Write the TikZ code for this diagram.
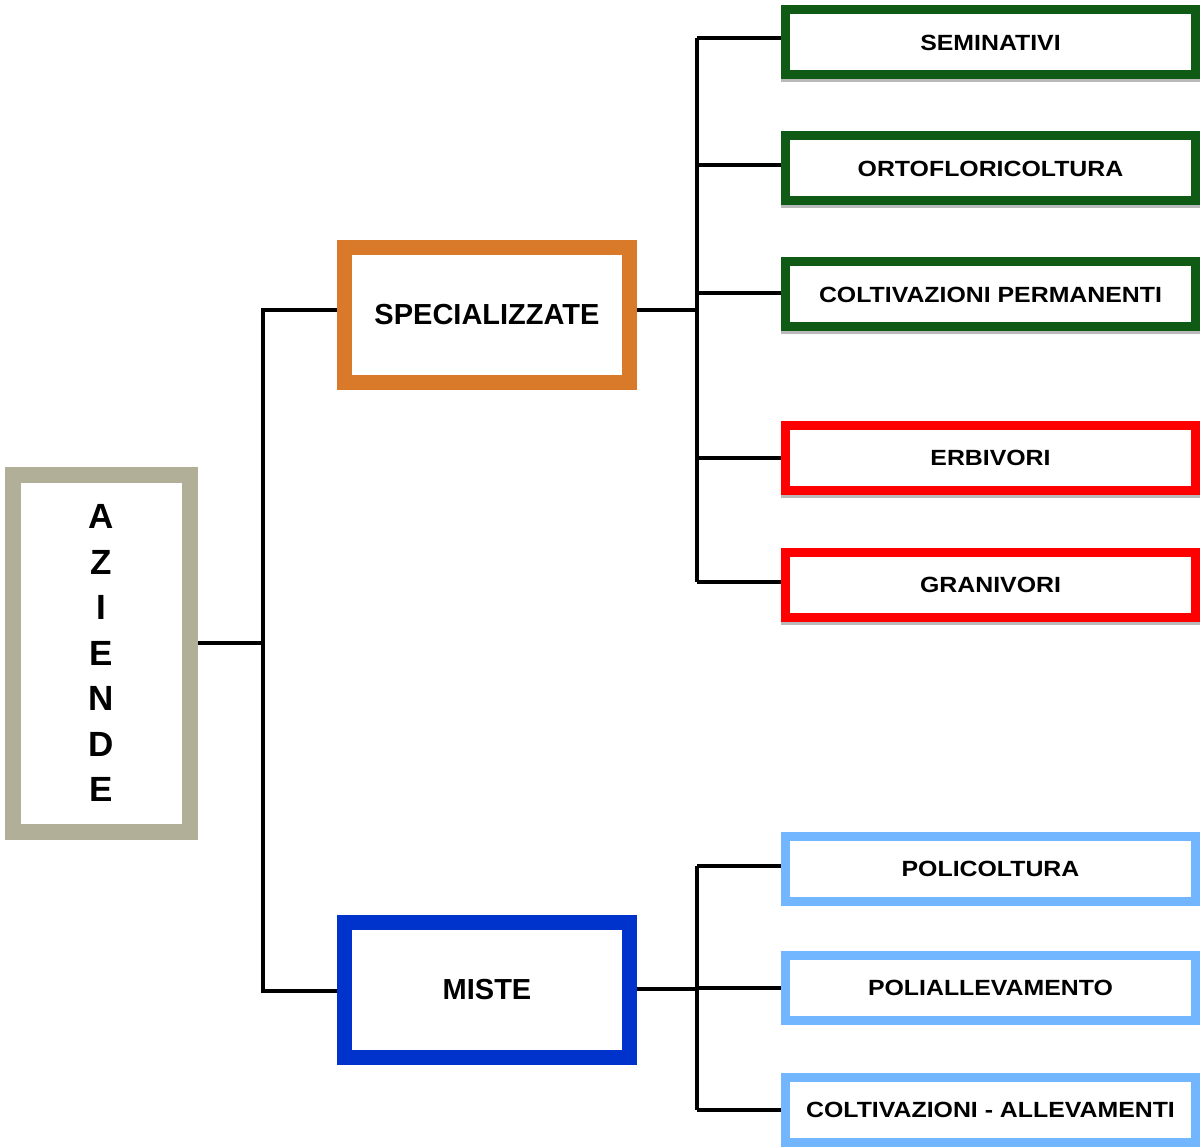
\documentclass[tikz,border=0pt]{standalone}
\usepackage{fontspec}
\setmainfont{Liberation Sans}
\newfontfamily\widefont{Liberation Sans}[FakeStretch=1.13]
\definecolor{tanc}{HTML}{B2AF98}
\definecolor{orangec}{HTML}{D97A2B}
\definecolor{bluec}{HTML}{0033CC}
\definecolor{greenc}{HTML}{0F5A14}
\definecolor{redc}{HTML}{FF0000}
\definecolor{lbluec}{HTML}{72B6FF}
\tikzset{
  conn/.style={draw=black, line width=4.5pt},
  bigbox/.style={draw, fill=white, line width=15pt, inner sep=0pt,
    minimum width=285pt, minimum height=135pt,
    font=\fontsize{29}{34}\selectfont\bfseries},
  leafbox/.style={draw, fill=white, line width=9pt, inner sep=0pt,
    minimum width=410pt, minimum height=65pt,
    font=\widefont\fontsize{22}{26}\selectfont\bfseries},
  shadowed/.style={preaction={draw=gray!55, line width=9pt, transform canvas={yshift=-3pt}}},
}
\begin{document}
\begin{tikzpicture}[x=1pt, y=-1pt]
\useasboundingbox (0,0) rectangle (1202,1147);
% root
\node[draw=tanc, fill=white, line width=16pt, inner sep=0pt,
  minimum width=177pt, minimum height=357pt, align=center,
  font=\fontsize{35}{45.5}\selectfont\bfseries] (az) at (101.5,653)
  {A\\Z\\I\\E\\N\\D\\E};
% level 1
\node[bigbox, draw=orangec] (spec) at (487,315) {SPECIALIZZATE};
\node[bigbox, draw=bluec] (miste) at (487,990) {MISTE};
% leaves
\node[leafbox, shadowed, draw=greenc] (semi) at (990.5,42.5) {SEMINATIVI};
\node[leafbox, shadowed, draw=greenc] (orto) at (990.5,168.5) {ORTOFLORICOLTURA};
\node[leafbox, shadowed, draw=greenc] (perm) at (990.5,294.5) {COLTIVAZIONI PERMANENTI};
\node[leafbox, shadowed, draw=redc] (erbi) at (990.5,458) {ERBIVORI};
\node[leafbox, shadowed, draw=redc] (gran) at (990.5,584.5) {GRANIVORI};
\node[leafbox, draw=lbluec] (poli) at (990.5,869) {POLICOLTURA};
\node[leafbox, draw=lbluec] (pall) at (990.5,988) {POLIALLEVAMENTO};
\node[leafbox, draw=lbluec] (call) at (990.5,1110) {COLTIVAZIONI - ALLEVAMENTI};
% junctions
\coordinate (j0) at (263,643);
\coordinate (j1) at (697,310);
\coordinate (j2) at (697,989);
% connectors
\draw[conn] (az.east |- j0) -- (j0);
\draw[conn] (j0) |- ([yshift=-1pt]miste.west);
\draw[conn] (j0) |- ([yshift=5pt]spec.west);
\draw[conn] ([yshift=5pt]spec.east) -- (j1);
\draw[conn] ([yshift=4.5pt]semi.west -| j1) -- ([yshift=2.5pt]gran.west -| j1);
\draw[conn] ([yshift=4.5pt]semi.west -| j1) -- ([yshift=4.5pt]semi.west);
\draw[conn] ([yshift=3.5pt]orto.west -| j1) -- ([yshift=3.5pt]orto.west);
\draw[conn] ([yshift=1.5pt]perm.west -| j1) -- ([yshift=1.5pt]perm.west);
\draw[conn] (erbi.west -| j1) -- (erbi.west);
\draw[conn] ([yshift=2.5pt]gran.west -| j1) -- ([yshift=2.5pt]gran.west);
\draw[conn] ([yshift=1pt]miste.east) -- (j2);
\draw[conn] ([yshift=3pt]poli.west -| j2) -- (call.west -| j2);
\draw[conn] ([yshift=3pt]poli.west -| j2) -- ([yshift=3pt]poli.west);
\draw[conn] (pall.west -| j2) -- (pall.west);
\draw[conn] (call.west -| j2) -- (call.west);
\end{tikzpicture}
\end{document}
